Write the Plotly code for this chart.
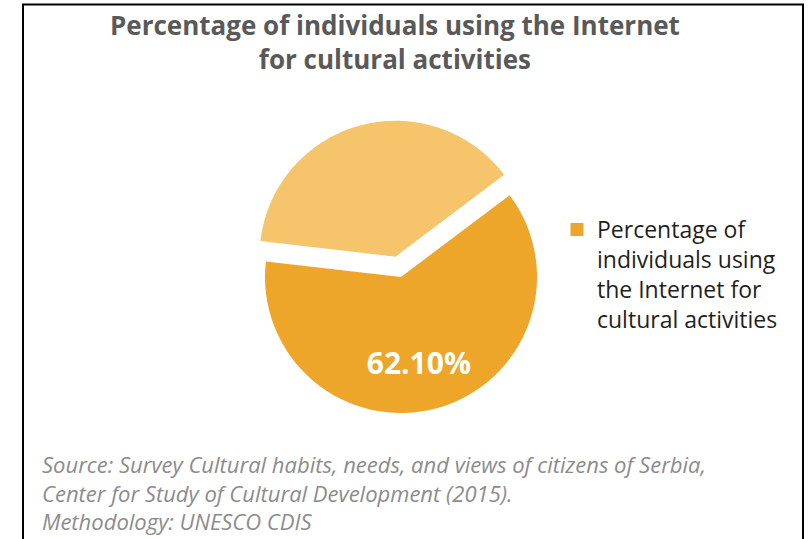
import plotly.graph_objects as go

W, H = 811, 539

# ---- data ----
slice_labels = ["Percentage of individuals using the Internet for cultural activities", "Other"]
slice_values = [62.10, 37.90]
slice_text = ["\u00a0<br>62.10%", ""]
legend_label = "Percentage of<br>individuals using<br>the Internet for<br>cultural activities"
title_text = "Percentage of individuals using the Internet<br>for cultural activities"
source_text = ("Source: Survey Cultural habits, needs, and views of citizens of Serbia,<br>"
               "Center for Study of Cultural Development (2015).<br>"
               "Methodology: UNESCO CDIS")

DARK = "#EDA52A"
LIGHT = "#F6C46A"
FONT = "Open Sans"

# pie geometry in pixels
cx, cy, r, pull = 401, 277, 136, 0.155
half = r * (1 + pull)
dom_x = [(cx - half) / W, (cx + half) / W]
dom_y = [((H - cy) - half) / H, ((H - cy) + half) / H]

fig = go.Figure()
fig.add_trace(go.Pie(
    labels=slice_labels,
    values=slice_values,
    text=slice_text,
    textinfo="text",
    textposition="inside",
    insidetextorientation="horizontal",
    textfont=dict(family=FONT, size=30, color="white", weight="bold"),
    marker=dict(colors=[DARK, LIGHT], line=dict(width=0)),
    pull=[0, pull],
    sort=False,
    direction="clockwise",
    rotation=53,
    domain=dict(x=dom_x, y=dom_y),
    showlegend=False,
    hoverinfo="label+percent",
))
# legend entry (only the dark series appears in the reference legend)
fig.add_trace(go.Scatter(
    x=[None], y=[None], mode="markers", name=legend_label,
    marker=dict(symbol="square", size=13, color=DARK),
    showlegend=True,
))

fig.update_layout(
    width=W, height=H,
    margin=dict(l=0, r=0, t=0, b=0, autoexpand=False),
    paper_bgcolor="white", plot_bgcolor="white",
    xaxis=dict(visible=False), yaxis=dict(visible=False),
    legend=dict(x=557 / W, y=1 - 208 / H, xanchor="left", yanchor="top",
                valign="top", bgcolor="rgba(0,0,0,0)",
                font=dict(family=FONT, size=23, color="#1F1F1F")),
    annotations=[
        dict(text=title_text, xref="paper", yref="paper",
             x=395 / W, y=1 - 5 / H, xanchor="center", yanchor="top",
             align="center", showarrow=False,
             font=dict(family=FONT, size=26, color="#595959", weight="bold")),
        dict(text=source_text, xref="paper", yref="paper",
             x=40 / W, y=1 - 447 / H, xanchor="left", yanchor="top",
             align="left", showarrow=False,
             font=dict(family=FONT, size=22, color="#8C8C8C", style="italic")),
    ],
    shapes=[dict(type="rect", xref="paper", yref="paper",
                 x0=23 / W, x1=803 / W, y0=-0.05, y1=1 - 4.5 / H,
                 line=dict(color="black", width=2), fillcolor="rgba(0,0,0,0)")],
)

fig.write_html("out.html")
